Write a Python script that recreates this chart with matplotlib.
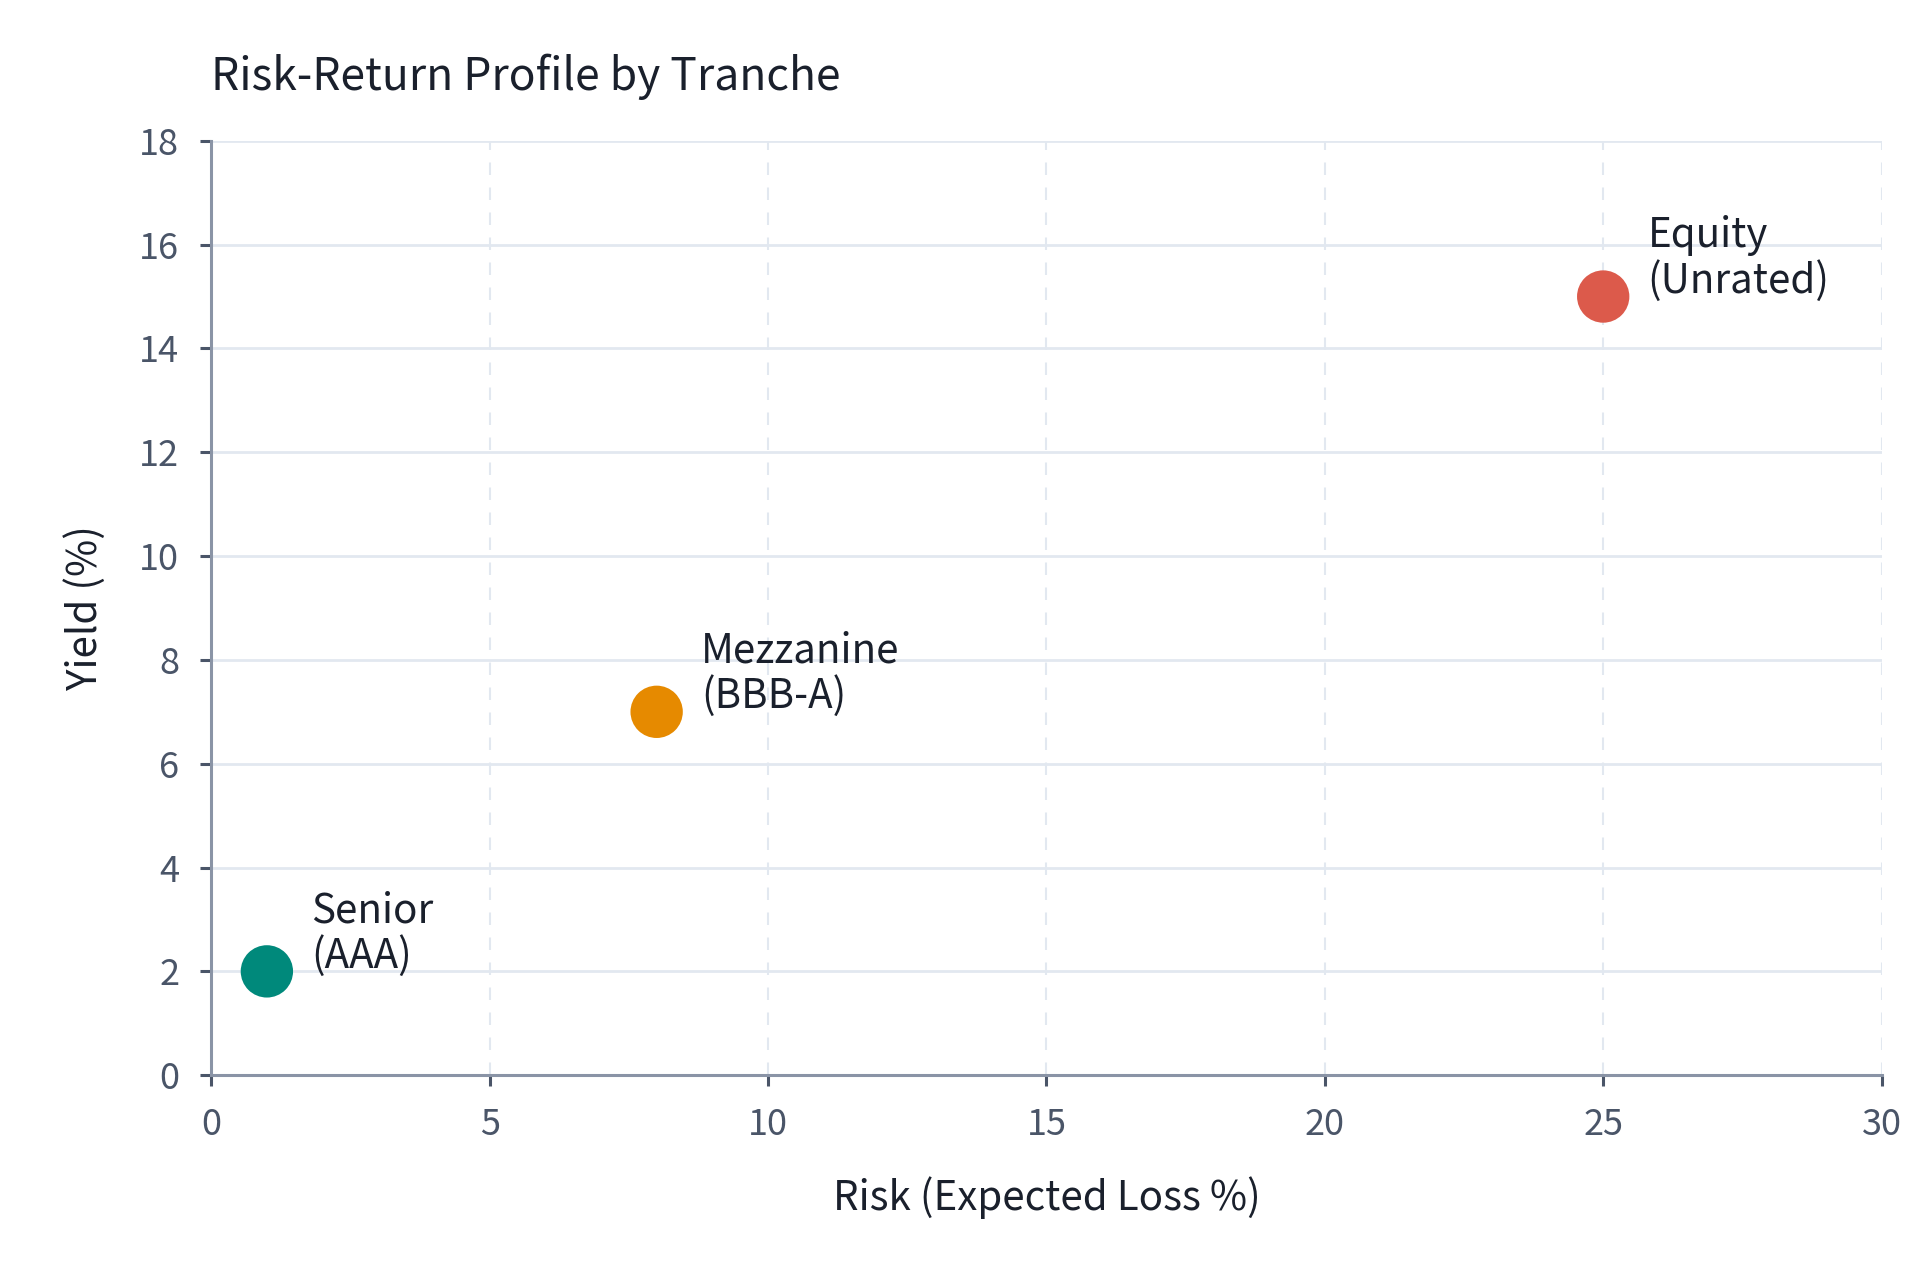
import matplotlib
matplotlib.use("Agg")
import matplotlib.pyplot as plt

plt.rcParams['font.family'] = ['Noto Sans CJK KR', 'DejaVu Sans']

tranches = ["Senior\n(AAA)", "Mezzanine\n(BBB-A)", "Equity\n(Unrated)"]
risk = [1, 8, 25]
yield_pct = [2, 7, 15]
colors = ["#00897B", "#E68A00", "#DC5A4B"]
x_ticks = [0, 5, 10, 15, 20, 25, 30]
y_ticks = [0, 2, 4, 6, 8, 10, 12, 14, 16, 18]

fig = plt.figure(figsize=(19.2, 12.8), dpi=100)
ax = fig.add_axes([0.110, 0.160, 0.870, 0.730])

ax.scatter(risk, yield_pct, s=1420, c=colors, zorder=3, linewidths=0)
for x, y, lab in zip(risk, yield_pct, tranches):
    ax.annotate(lab, (x, y), xytext=(32, -4), textcoords='offset points',
                ha='left', va='bottom', fontsize=29, color='#1a202c',
                linespacing=1.12, zorder=4)

ax.set_xlim(0, 30)
ax.set_ylim(0, 18)
ax.set_xticks(x_ticks)
ax.set_yticks(y_ticks)

ax.grid(axis='y', color='#E2E8F0', linewidth=2, linestyle='-', zorder=0)
ax.grid(axis='x', color='#E2E8F0', linewidth=1.5, linestyle=(0, (6, 6)), zorder=0)
ax.set_axisbelow(True)

for s in ['top', 'right']:
    ax.spines[s].set_visible(False)
for s in ['left', 'bottom']:
    ax.spines[s].set_color('#8A94A6')
    ax.spines[s].set_linewidth(2.2)

ax.tick_params(axis='both', colors='#4A5568', labelsize=26, length=8, width=2.2)
ax.tick_params(axis='x', pad=15)
ax.tick_params(axis='y', pad=15)

ax.set_xlabel("Risk (Expected Loss %)", fontsize=29, color='#1a202c', labelpad=24)
ax.set_ylabel("Yield (%)", fontsize=29, color='#1a202c', labelpad=24)

fig.text(0.110, 0.940, "Risk-Return Profile by Tranche", fontsize=32,
         color='#1a202c', ha='left', va='center')

fig.savefig("out.png", dpi=100, facecolor='white')
